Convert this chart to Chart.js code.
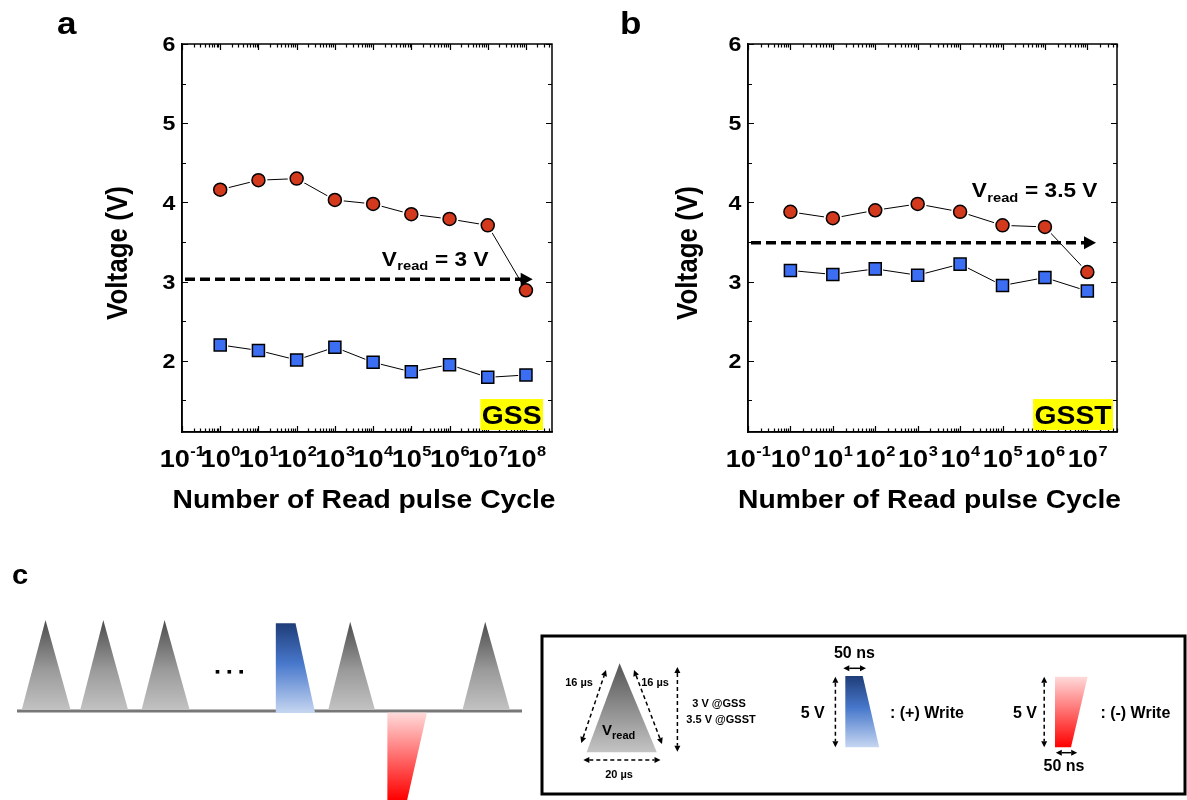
<!DOCTYPE html>
<html>
<head>
<meta charset="utf-8">
<script src="https://cdn.jsdelivr.net/npm/chart.js@4.4.0/dist/chart.umd.min.js"></script>
<style>
  body { margin: 0; background: #fff; }
  #page { position: relative; width: 1187px; height: 800px; overflow: hidden; background: #fff; }
  #chartA { position: absolute; left: 0; top: 0; }
  #chartB { position: absolute; left: 590px; top: 0; }
  #panelC { position: absolute; left: 0; top: 540px; }
</style>
</head>
<body>
<div id="page">
  <canvas id="chartA" width="590" height="540"></canvas>
  <canvas id="chartB" width="597" height="540"></canvas>
  <canvas id="panelC" width="1187" height="260"></canvas>
</div>
<script>
const FONT = "'Liberation Sans', Arial, sans-serif";
const STRETCH = 1.13; // the original figure is a bit wide
const RED = "#d2391d";
const BLUE = "#3b6ef2";

// panel a : GSS
const cyclesA = [1, 1e1, 1e2, 1e3, 1e4, 1e5, 1e6, 1e7, 1e8];
const gssHigh = [4.16, 4.28, 4.30, 4.03, 3.98, 3.85, 3.79, 3.71, 2.89];
const gssLow = [2.20, 2.13, 2.01, 2.17, 1.98, 1.86, 1.95, 1.79, 1.82];
const xExpA = [-1, 0, 1, 2, 3, 4, 5, 6, 7, 8];

// panel b : GSST
const cyclesB = [1, 1e1, 1e2, 1e3, 1e4, 1e5, 1e6, 1e7];
const gsstHigh = [3.88, 3.80, 3.90, 3.98, 3.88, 3.71, 3.69, 3.12];
const gsstLow = [3.14, 3.09, 3.16, 3.08, 3.22, 2.95, 3.05, 2.88];
const xExpB = [-1, 0, 1, 2, 3, 4, 5, 6, 7];

const yTicks = [2, 3, 4, 5, 6];
const yMinorTicks = [1.5, 2.5, 3.5, 4.5, 5.5];

// read voltage arrows (level, end of arrow)
const vReadA = [3.03, 1.5e8];
const vReadB = [3.49, 1.6e7];

function txt(ctx, s, x, y, size, align, sx) {
  ctx.save();
  ctx.font = "bold " + size + "px " + FONT;
  ctx.textAlign = align || "left";
  ctx.textBaseline = "alphabetic";
  ctx.fillStyle = "#000";
  ctx.translate(x, y);
  ctx.scale(sx === undefined ? STRETCH : sx, 1);
  ctx.fillText(s, 0, 0);
  ctx.restore();
}

function txtW(ctx, s, size, sx) {
  ctx.save();
  ctx.font = "bold " + size + "px " + FONT;
  const w = ctx.measureText(s).width;
  ctx.restore();
  return w * (sx === undefined ? STRETCH : sx);
}

function figurePlugin(o) {
  return {
    id: "figure",
    afterDraw(chart) {
      const ctx = chart.ctx;
      const ca = chart.chartArea;
      const x = chart.scales.x;
      const y = chart.scales.y;

      // frame
      ctx.save();
      ctx.strokeStyle = "#000";
      ctx.lineWidth = 1.5;
      ctx.strokeRect(ca.left, ca.top, ca.right - ca.left, ca.bottom - ca.top);

      // y ticks, in on both sides
      ctx.lineWidth = 1.2;
      ctx.beginPath();
      yTicks.concat(yMinorTicks).forEach((v) => {
        const len = yTicks.includes(v) ? 6 : 4;
        const py = Math.round(y.getPixelForValue(v)) + 0.5;
        ctx.moveTo(ca.left, py);
        ctx.lineTo(ca.left + len, py);
        ctx.moveTo(ca.right, py);
        ctx.lineTo(ca.right - len, py);
      });
      // x ticks, log decades
      for (let e = -1; e <= 9; e++) {
        for (let k = 1; k <= 9; k++) {
          const v = k * Math.pow(10, e);
          if (v < x.min || v > x.max) continue;
          const len = k === 1 ? 6 : 3.5;
          const px = Math.round(x.getPixelForValue(v)) + 0.5;
          ctx.moveTo(px, ca.bottom);
          ctx.lineTo(px, ca.bottom - len);
          ctx.moveTo(px, ca.top);
          ctx.lineTo(px, ca.top + len);
        }
      }
      ctx.stroke();
      ctx.restore();

      // y tick labels
      yTicks.forEach((v) => {
        txt(ctx, String(v), ca.left - 6.5, y.getPixelForValue(v) + 7.3, 20.5, "right");
      });

      // x tick labels 10^n
      o.xExp.forEach((e) => {
        const px = x.getPixelForValue(Math.pow(10, e));
        const a = "10";
        const b = String(e);
        const wa = txtW(ctx, a, 24);
        const wb = txtW(ctx, b, 14.5);
        const x0 = px - (wa + wb) / 2;
        txt(ctx, a, x0, 467, 24);
        txt(ctx, b, x0 + wa + 0.5, 455.5, 14.5);
      });

      // axis titles
      txt(ctx, "Number of Read pulse Cycle", (ca.left + ca.right) / 2 - 3, 508, 25, "center");
      ctx.save();
      ctx.font = "bold 26px " + FONT;
      ctx.fillStyle = "#000";
      ctx.textAlign = "center";
      ctx.translate(ca.left + o.yTitleDx, 253);
      ctx.rotate(-Math.PI / 2);
      ctx.scale(1, STRETCH);
      ctx.fillText("Voltage (V)", 0, 0);
      ctx.restore();

      // panel letter
      txt(ctx, o.letter, o.letterX, 34, 31);

      // dashed read arrow
      const ay = y.getPixelForValue(o.vRead[0]);
      const tip = x.getPixelForValue(o.vRead[1]);
      ctx.save();
      ctx.strokeStyle = "#000";
      ctx.fillStyle = "#000";
      ctx.lineWidth = 3.5;
      ctx.setLineDash([10, 5]);
      ctx.beginPath();
      ctx.moveTo(ca.left + 3, ay);
      ctx.lineTo(tip - 9, ay);
      ctx.stroke();
      ctx.beginPath();
      ctx.moveTo(tip, ay);
      ctx.lineTo(tip - 12, ay - 6.5);
      ctx.lineTo(tip - 12, ay + 6.5);
      ctx.closePath();
      ctx.fill();
      ctx.restore();

      // V_read label
      const lx = o.labelX;
      const ly = ay + o.labelDy;
      txt(ctx, "V", lx, ly, 20);
      const wv = txtW(ctx, "V", 20);
      txt(ctx, "read", lx + wv + 0.5, ly + 4.5, 13);
      const wr = txtW(ctx, "read", 13);
      txt(ctx, " = " + o.labelV, lx + wv + wr + 1, ly, 20);

      // material tag
      const tw = txtW(ctx, o.tag, 25);
      const bx1 = ca.right - o.tagGap;
      const bx0 = bx1 - tw - 3;
      ctx.save();
      ctx.fillStyle = "#ffff00";
      ctx.fillRect(bx0, ca.bottom - 33, bx1 - bx0, 31);
      ctx.restore();
      txt(ctx, o.tag, (bx0 + bx1) / 2, ca.bottom - 8.5, 25, "center");
    },
  };
}

function makeChart(id, o) {
  const toXY = (xs, ys) => xs.map((v, i) => ({ x: v, y: ys[i] }));
  const series = [
    { ys: o.high, style: "circle", r: 6.5, color: RED },
    { ys: o.low, style: "rect", r: 8.5, color: BLUE },
  ];
  const datasets = [];
  series.forEach((s) => {
    const pts = toXY(o.cycles, s.ys);
    datasets.push({
      data: pts, showLine: true, borderColor: "#000", borderWidth: 1,
      pointRadius: 0, pointHoverRadius: 0, order: 2,
    });
    datasets.push({
      data: pts, showLine: false, pointStyle: s.style, pointRadius: s.r + 2.5,
      pointBackgroundColor: "#fff", pointBorderWidth: 0, pointBorderColor: "#fff", order: 1,
    });
    datasets.push({
      data: pts, showLine: false, pointStyle: s.style, pointRadius: s.r,
      pointBackgroundColor: s.color, pointBorderColor: "#000", pointBorderWidth: 1.5, order: 0,
    });
  });

  return new Chart(document.getElementById(id), {
    type: "scatter",
    data: { datasets: datasets },
    options: {
      responsive: false,
      animation: false,
      events: [],
      layout: { padding: { left: 0, top: 44, right: o.padRight, bottom: 0 } },
      plugins: { legend: { display: false }, tooltip: { enabled: false } },
      scales: {
        x: {
          type: "logarithmic",
          min: 0.1,
          max: o.xMax,
          grid: { display: false },
          border: { display: true, color: "#000", width: 1.5 },
          ticks: { display: false },
          afterFit: (s) => { s.height = 108; },
        },
        y: {
          type: "linear",
          min: 1.1,
          max: 6,
          grid: { display: false },
          border: { display: true, color: "#000", width: 1.5 },
          ticks: { display: false },
          afterFit: (s) => { s.width = o.yAxisW; },
        },
      },
    },
    plugins: [figurePlugin(o)],
  });
}

makeChart("chartA", {
  cycles: cyclesA, high: gssHigh, low: gssLow, xExp: xExpA, xMax: 4.8e8,
  padRight: 38, yAxisW: 182, yTitleDx: -55, letter: "a", letterX: 57,
  vRead: vReadA, labelX: 381.7, labelDy: -13.3, labelV: "3 V",
  tag: "GSS", tagGap: 9,
});

makeChart("chartB", {
  cycles: cyclesB, high: gsstHigh, low: gsstLow, xExp: xExpB, xMax: 5e7,
  padRight: 70, yAxisW: 158, yTitleDx: -51, letter: "b", letterX: 30,
  vRead: vReadB, labelX: 381.7, labelDy: -45.4, labelV: "3.5 V",
  tag: "GSST", tagGap: 4,
});

// panel c : pulse scheme
const cv = document.getElementById("panelC");
const g = cv.getContext("2d");
g.translate(0, -540);

function grad(y0, y1, stops) {
  const gr = g.createLinearGradient(0, y0, 0, y1);
  stops.forEach((s) => gr.addColorStop(s[0], s[1]));
  return gr;
}
const GRAY = [[0, "#4c4c4c"], [0.55, "#9a9a9a"], [1, "#c2c2c2"]];
const BLUEG = [[0, "#1f3d78"], [0.45, "#4878cc"], [1, "#c6d6f1"]];
const REDG = [[0, "#ffdada"], [1, "#ff0000"]];

function poly(pts, fill) {
  g.beginPath();
  g.moveTo(pts[0][0], pts[0][1]);
  pts.slice(1).forEach((p) => g.lineTo(p[0], p[1]));
  g.closePath();
  g.fillStyle = fill;
  g.fill();
}

function tri(x0, x1, ax, ay, by) {
  poly([[x0, by], [ax, ay], [x1, by]], grad(ay, by, GRAY));
}

function head(x, y, ang, hl, hw) {
  const c = Math.cos(ang), s = Math.sin(ang);
  g.beginPath();
  g.moveTo(x, y);
  g.lineTo(x - hl * c + hw * s, y - hl * s - hw * c);
  g.lineTo(x - hl * c - hw * s, y - hl * s + hw * c);
  g.closePath();
  g.fill();
}

function dArrow(x1, y1, x2, y2, dashed) {
  const ang = Math.atan2(y2 - y1, x2 - x1);
  const hl = 6, hw = 3;
  g.save();
  g.strokeStyle = "#000";
  g.fillStyle = "#000";
  g.lineWidth = 1.5;
  if (dashed) g.setLineDash([4, 3]);
  g.beginPath();
  g.moveTo(x1 + hl * Math.cos(ang), y1 + hl * Math.sin(ang));
  g.lineTo(x2 - hl * Math.cos(ang), y2 - hl * Math.sin(ang));
  g.stroke();
  g.setLineDash([]);
  head(x2, y2, ang, hl, hw);
  head(x1, y1, ang + Math.PI, hl, hw);
  g.restore();
}

txt(g, "c", 12, 584, 27, "left", 1.08);

// baseline
g.fillStyle = "#777";
g.fillRect(17, 709.5, 505, 3);

tri(21.7, 70.6, 45.5, 620, 710);
tri(80.2, 128.1, 103.3, 620, 710);
tri(141.5, 189.7, 164.6, 620, 710);
tri(328.2, 375, 350.2, 621.7, 710);
tri(462.5, 510, 485.2, 621.7, 710);

g.fillStyle = "#000";
[217.5, 229.3, 241.2].forEach((dx) => g.fillRect(dx - 1.8, 670, 3.6, 3.6));

poly([[275.8, 623.3], [295.5, 623.3], [315.1, 713], [275.8, 713]], grad(623.3, 713, BLUEG));
poly([[387.4, 712.7], [427, 712.7], [406, 805], [387.4, 805]], grad(712.7, 800, REDG));

// legend box
g.save();
g.strokeStyle = "#000";
g.lineWidth = 3;
g.strokeRect(542, 636, 643, 158);
g.restore();

// read pulse
poly([[586.6, 752.3], [619.6, 663.3], [656.8, 752.3]], grad(663.3, 752.3, [[0, "#555"], [1, "#c4c4c4"]]));
txt(g, "V", 602, 735, 15, "left", 1);
txt(g, "read", 602 + txtW(g, "V", 15, 1), 739, 11, "left", 1);
dArrow(581.3, 743, 606, 670, true);
dArrow(634, 670, 662, 744, true);
dArrow(677.4, 667, 677.4, 751.7, true);
dArrow(583.3, 760, 660.5, 760, true);
txt(g, "16 \u00b5s", 579, 686, 11, "center", 1);
txt(g, "16 \u00b5s", 655, 686, 11, "center", 1);
txt(g, "3 V @GSS", 719, 707, 11, "center", 1);
txt(g, "3.5 V @GSST", 721, 723, 11, "center", 1);
txt(g, "20 \u00b5s", 619, 778, 11, "center", 1);

// (+) write pulse
poly([[845.3, 676], [862.7, 676], [879.2, 747.3], [845.3, 747.3]], grad(676, 747.3, BLUEG));
dArrow(835.4, 676.7, 835.4, 747.3, true);
dArrow(843.3, 668.3, 866, 668.3, false);
txt(g, "50 ns", 854.4, 657.5, 16, "center", 1);
txt(g, "5 V", 824.7, 718, 16, "right", 1);
txt(g, ": (+) Write", 890, 718, 16, "left", 1);

// (-) write pulse
poly([[1055, 676.7], [1087.6, 676.7], [1071, 747.3], [1055, 747.3]], grad(676.7, 747.3, REDG));
dArrow(1044.2, 676.7, 1044.2, 747.3, true);
dArrow(1055.8, 752.7, 1077.2, 752.7, false);
txt(g, "50 ns", 1064, 771, 16, "center", 1);
txt(g, "5 V", 1037, 718, 16, "right", 1);
txt(g, ": (-) Write", 1100.4, 718, 16, "left", 1);
</script>
</body>
</html>
